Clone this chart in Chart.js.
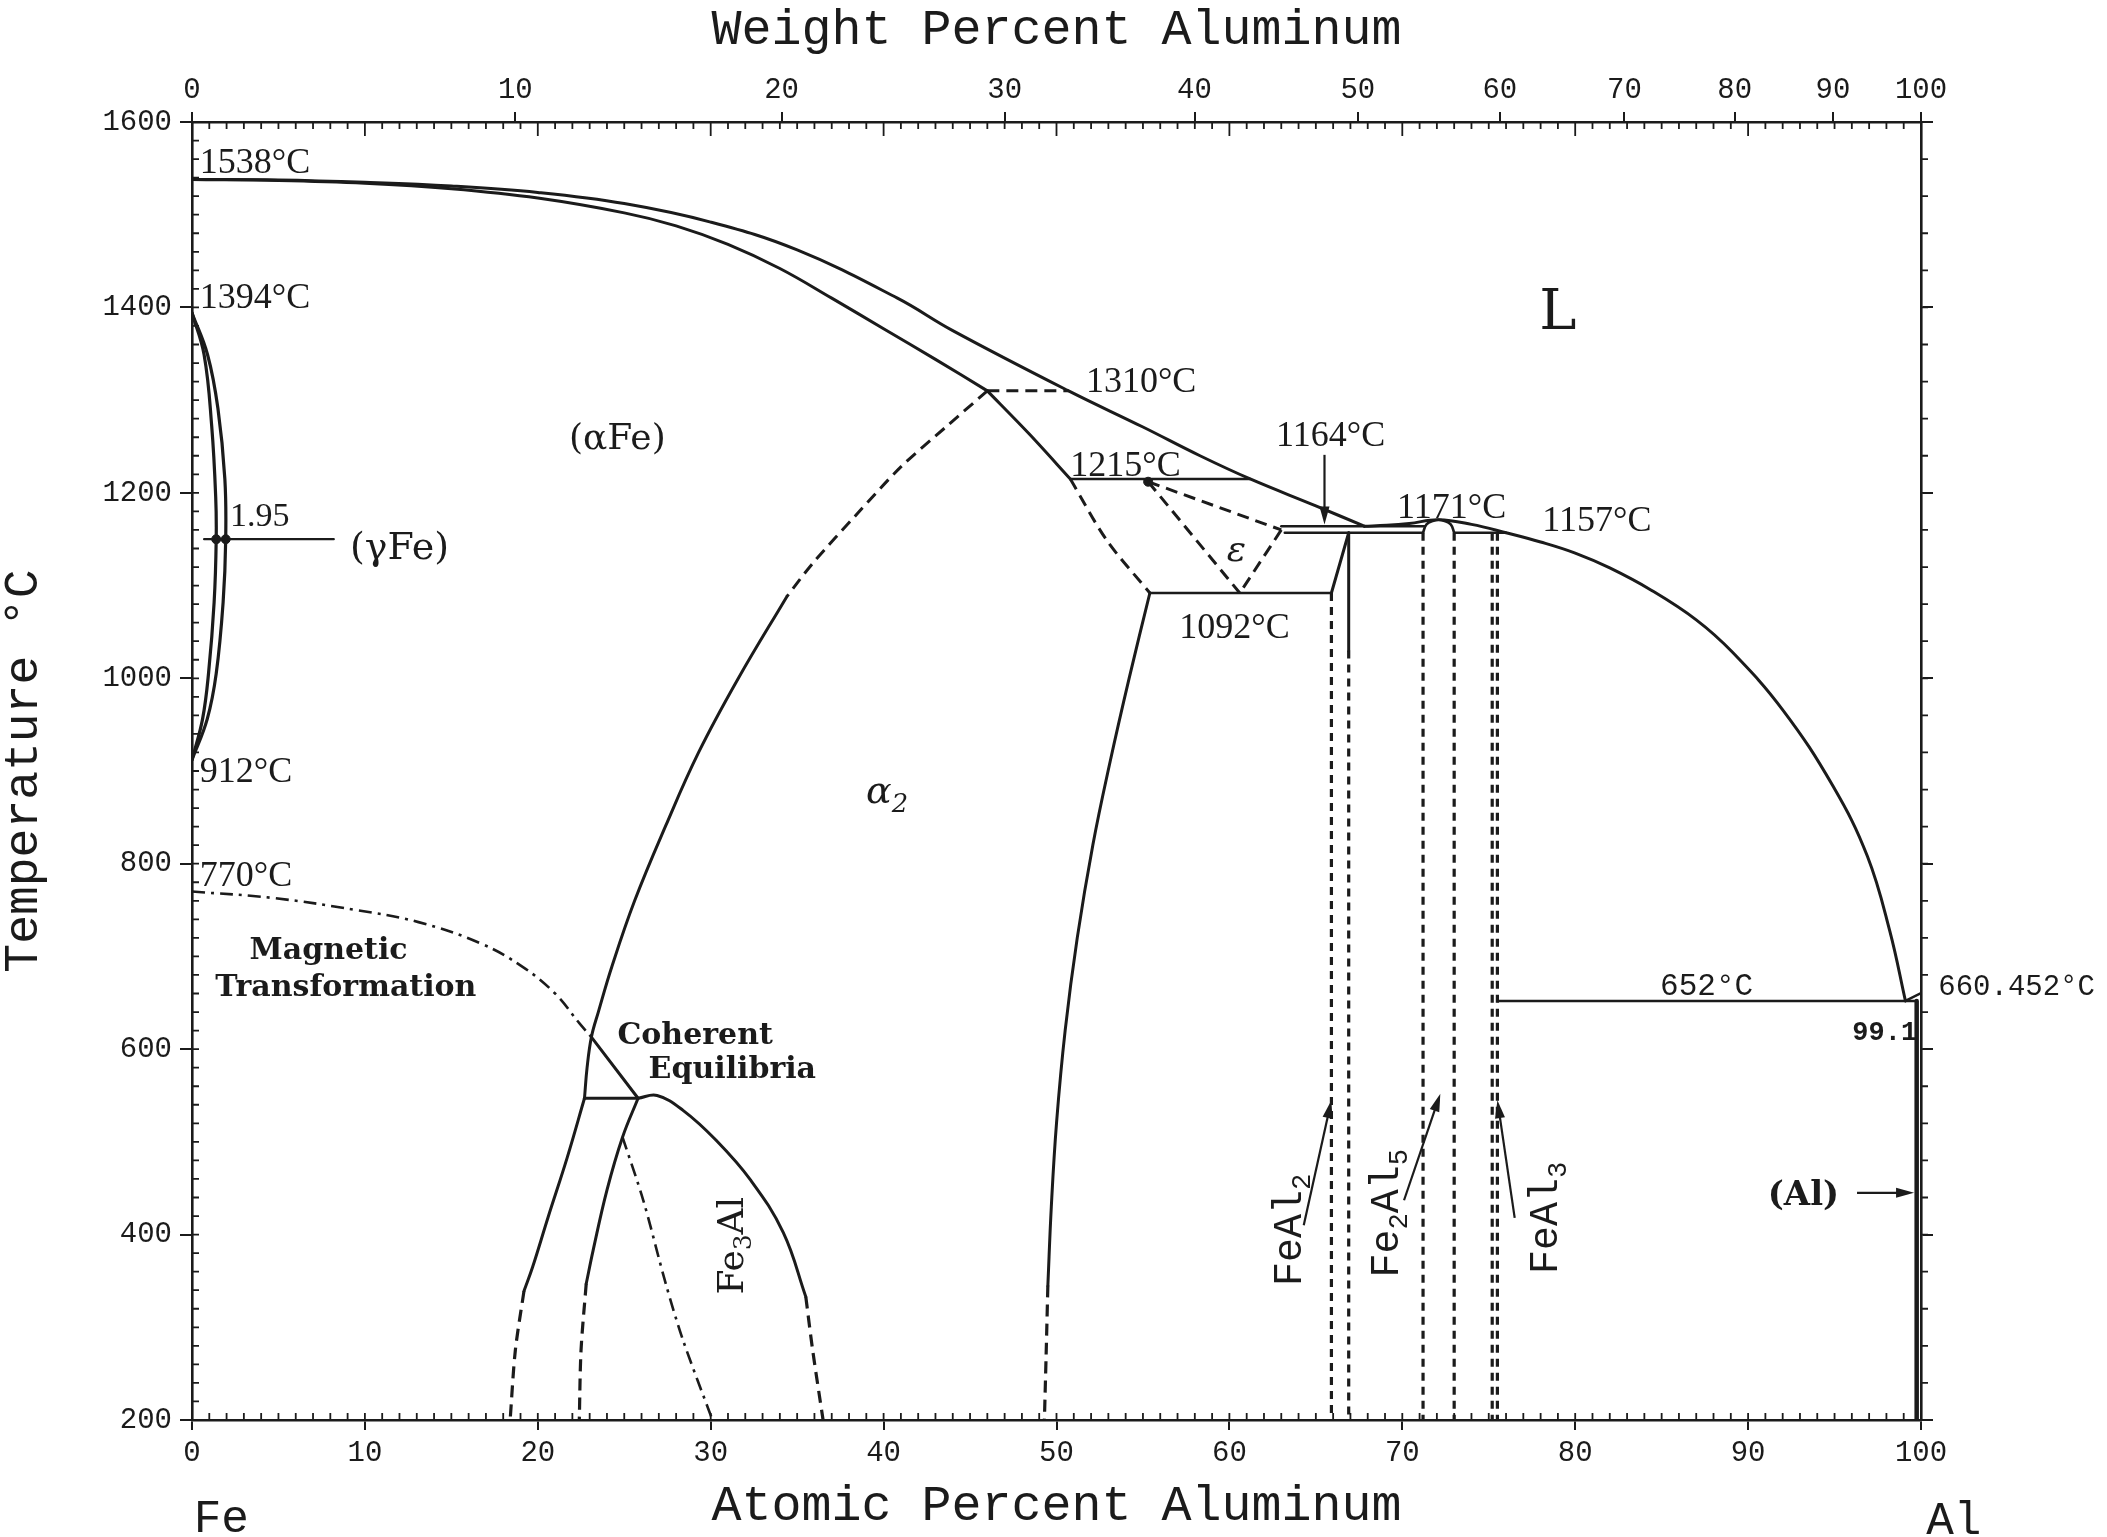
<!DOCTYPE html>
<html>
<head>
<meta charset="utf-8">
<script src="https://cdn.jsdelivr.net/npm/chart.js@4.4.1/dist/chart.umd.min.js"></script>
<style>
  html, body { margin: 0; padding: 0; background: #fff; }
  canvas { display: block; background: #fff; }
</style>
</head>
<body>
<canvas id="c" width="2107" height="1537"></canvas>
<script>
// ---------- axis ticks ----------
const atTicks = [0, 10, 20, 30, 40, 50, 60, 70, 80, 90, 100];      // atomic percent Al
const wtTicks = [0, 10, 20, 30, 40, 50, 60, 70, 80, 90, 100];      // weight percent Al
const tempTicks = [200, 400, 600, 800, 1000, 1200, 1400, 1600];    // degrees C

const M_AL = 26.98, M_FE = 55.845;
const wtToAt = w => 100 * (w / M_AL) / (w / M_AL + (100 - w) / M_FE);

// ---------- phase boundaries: [at.% Al, T in C] ----------
const liquidusFe   = [[0,1538],[5,1537.5],[10,1535],[15,1531],[20,1524],[25,1512],[30,1492],[35,1462],[40.8,1410],[44,1375],[50.7,1310],[55,1271],[58.3,1240],[61.2,1215],[65,1186],[67.8,1164]];
const solidusAlpha = [[0,1538],[5,1537],[10,1534],[15,1528],[20,1518],[25,1502],[28,1488],[31,1468],[34,1442],[37,1410],[40,1377],[43,1344],[46,1310]];
const liquidusAl   = [[67.8,1164],[69.1,1165],[70.4,1167],[72.1,1171],[74.0,1166],[76.0,1157],[78.0,1147],[80.0,1135],[82.0,1119],[84.4,1095],[87.0,1063],[89.1,1028],[92.0,966],[94.9,884],[96.9,808],[98.2,727],[99.1,652]];

const gammaOuter = [[0,1394],[0.9,1349],[1.5,1291],[1.9,1215],[1.95,1150],[1.8,1082],[1.4,1005],[0.88,956],[0,912]];
const gammaInner = [[0,1394],[0.7,1349],[1.14,1272],[1.37,1196],[1.4,1150],[1.28,1082],[0.96,1006],[0.61,956],[0,912]];
const gammaPointer = [[0.7,1150],[8.2,1150]];

const magnetic = [[0,770],[4.7,763],[9.5,750],[13.1,737],[16.7,714],[19.1,689],[21.0,660],[22.4,628],[23.1,613]];

const orderUpperDashed = [[46,1310],[43.6,1271],[41,1228],[38.5,1178],[35.9,1124],[34.4,1088]];
const orderLower = [[34.4,1088],[31.6,1000],[29.3,920],[27.4,841],[25.6,760],[24.3,690],[23.5,640],[23.1,613],[22.85,580],[22.7,547]];

const coherentTie  = [[22.7,547],[25.8,547]];
const coherentDiag = [[23.1,613],[25.8,547]];

const fe3AlDome       = [[25.8,547],[26.9,550],[28.4,534],[30.3,502],[32.3,459],[34.2,402],[35.5,333]];
const fe3AlDomeDashed = [[35.5,333],[35.9,275],[36.5,200]];
const fe3AlLeft       = [[22.7,547],[21.7,483],[20.6,419],[19.7,365],[19.2,339]];
const fe3AlLeftDashed = [[19.2,339],[18.7,275],[18.4,200]];
const fe3AlInner       = [[25.8,547],[24.9,505],[24.0,448],[23.2,383],[22.8,347]];
const fe3AlInnerDashed = [[22.8,347],[22.5,275],[22.4,200]];
const fe3AlOrder = [[24.9,505],[26.1,437],[27.4,347],[28.4,286],[30.1,200]];

const iso1310 = [[46,1310],[50.7,1310]];
const alpha2Upper = [[46,1310],[48.4,1264],[50.8,1215]];
const iso1215 = [[50.8,1215],[61.2,1215]];
const alpha2Dashed = [[50.8,1215],[52.9,1149],[55.4,1092]];
const iso1092 = [[55.4,1092],[65.9,1092]];
const alpha2Lower = [[55.4,1092],[54.2,1000],[53.1,910],[52.1,820],[51.2,720],[50.5,620],[50.0,520],[49.7,430],[49.5,345]];
const alpha2LowerDashed = [[49.5,345],[49.4,270],[49.3,200]];

const epsUpper = [[55.3,1212],[63.0,1160]];
const epsLeft  = [[55.3,1212],[60.6,1092]];
const epsRight = [[63.0,1160],[60.6,1092]];

const iso1164 = [[63.0,1164],[71.3,1164]];
const iso1157a = [[63.2,1157],[71.2,1157]];

const feAl2Diag = [[65.9,1092],[66.9,1157]];
const feAl2RightSolid = [[66.9,1157],[66.9,1030]];
const feAl2RightDashed = [[66.9,1030],[66.9,200]];
const feAl2LeftDashed = [[65.9,1092],[65.9,200]];

const fe2Al5Top = [[71.2,1157],[71.4,1166],[71.8,1170],[72.1,1171],[72.4,1170],[72.8,1166],[73.0,1157]];
const fe2Al5Left = [[71.2,1157],[71.2,200]];
const fe2Al5Right = [[73.0,1157],[73.0,200]];

const iso1157b = [[73.0,1157],[76.0,1157]];
const feAl3Left = [[75.2,1157],[75.2,200]];
const feAl3Right = [[75.5,1157],[75.5,200]];

const iso652 = [[75.5,652],[99.75,652]];
const alSolvus = [[99.75,652],[99.75,200]];
const alMelt = [[99.1,652],[100,660.452]];

const markedPoints = [[1.4,1150],[1.95,1150],[55.3,1212]];

// ---------- look ----------
const INK = '#1b1b1b';
const SERIF = '"DejaVu Serif"';
const TIMES = '"Liberation Serif"';
const MONO = '"Liberation Mono"';
const LW = 3;

const pts = a => a.map(([x, y]) => ({ x, y }));
const solid = (a, w = LW, t = 0) => ({
  data: pts(a), showLine: true, borderColor: INK, borderWidth: w,
  pointRadius: 0, tension: t, fill: false, borderCapStyle: 'round'
});
const dashed = (a, dash = [12, 7], w = LW, t = 0) => Object.assign(solid(a, w, t), { borderDash: dash, borderCapStyle: 'butt' });
const DASH = [12, 7];
const DASH_V = [8, 6];
const DASH_DOT = [13, 6, 3, 6];

const datasets = [
  solid(liquidusFe, LW, 0.4),
  solid(solidusAlpha, LW, 0.4),
  solid(liquidusAl, LW, 0.4),
  solid(gammaOuter, 3.2, 0.4),
  solid(gammaInner, 3.2, 0.4),
  solid(gammaPointer, 2.2),
  dashed(magnetic, DASH_DOT, 2.6, 0.4),
  dashed(orderUpperDashed, DASH, LW, 0.3),
  solid(orderLower, LW, 0.4),
  solid(coherentTie),
  solid(coherentDiag),
  solid(fe3AlDome, LW, 0.4),
  dashed(fe3AlDomeDashed, DASH, 3.2, 0.3),
  solid(fe3AlLeft, LW, 0.4),
  dashed(fe3AlLeftDashed, DASH, 3.2, 0.3),
  solid(fe3AlInner, LW, 0.4),
  dashed(fe3AlInnerDashed, DASH, 3.2, 0.3),
  dashed(fe3AlOrder, DASH_DOT, 2.6, 0.3),
  dashed(iso1310, DASH),
  solid(alpha2Upper, LW, 0.3),
  solid(iso1215, 2.6),
  dashed(alpha2Dashed, DASH, LW, 0.3),
  solid(iso1092, 2.6),
  solid(alpha2Lower, LW, 0.4),
  dashed(alpha2LowerDashed, DASH, 3.2, 0.3),
  dashed(epsUpper, DASH),
  dashed(epsLeft, DASH),
  dashed(epsRight, DASH),
  solid(iso1164, 2.4),
  solid(iso1157a, 2.4),
  solid(feAl2Diag),
  solid(feAl2RightSolid),
  dashed(feAl2RightDashed, DASH_V, 3.2),
  dashed(feAl2LeftDashed, DASH_V, 3.2),
  solid(fe2Al5Top, 2.6, 0.4),
  dashed(fe2Al5Left, DASH_V, 3.2),
  dashed(fe2Al5Right, DASH_V, 3.2),
  solid(iso1157b, 2.4),
  dashed(feAl3Left, DASH_V, 3.2),
  dashed(feAl3Right, DASH_V, 3.2),
  solid(iso652, 2.6),
  solid(alSolvus, 4.5),
  solid(alMelt, 2.4),
  { data: pts(markedPoints), showLine: false, pointRadius: 4.5, pointBackgroundColor: INK, pointBorderColor: INK }
];

// ---------- text on the diagram ----------
const notes = [
  { text: '1538°C', at: 0.45, T: 1559, font: TIMES, size: 36, align: 'left' },
  { text: '1394°C', at: 0.45, T: 1413, font: TIMES, size: 36, align: 'left' },
  { text: '912°C',  at: 0.45, T: 902,  font: TIMES, size: 36, align: 'left' },
  { text: '770°C',  at: 0.45, T: 790,  font: TIMES, size: 36, align: 'left' },
  { text: '1.95',   at: 2.2,  T: 1177, font: TIMES, size: 34, align: 'left' },
  { text: '(γFe)',  at: 12.0, T: 1143, font: SERIF, size: 38 },
  { text: '(αFe)',  at: 24.6, T: 1261, font: SERIF, size: 36 },
  { text: '1310°C', at: 51.7, T: 1323, font: TIMES, size: 36, align: 'left' },
  { text: '1215°C', at: 50.8, T: 1232, font: TIMES, size: 36, align: 'left' },
  { text: '1164°C', at: 62.7, T: 1264, font: TIMES, size: 36, align: 'left' },
  { text: '1171°C', at: 69.7, T: 1187, font: TIMES, size: 36, align: 'left' },
  { text: '1157°C', at: 78.1, T: 1173, font: TIMES, size: 36, align: 'left' },
  { text: '1092°C', at: 57.1, T: 1057, font: TIMES, size: 36, align: 'left' },
  { text: 'ε',      at: 60.4, T: 1141, font: SERIF, size: 36, style: 'italic' },
  { text: 'L',      at: 79.0, T: 1399, font: SERIF, size: 56 },
  { text: 'α_2',    at: 40.2, T: 880,  font: SERIF, size: 38, style: 'italic' },
  { text: 'Magnetic',       at: 7.9,  T: 709, font: SERIF, size: 30, style: 'bold' },
  { text: 'Transformation', at: 8.9,  T: 669, font: SERIF, size: 30, style: 'bold' },
  { text: 'Coherent',       at: 29.1, T: 617, font: SERIF, size: 30, style: 'bold' },
  { text: 'Equilibria',     at: 31.25, T: 580, font: SERIF, size: 30, style: 'bold' },
  { text: 'Fe_3Al',  at: 31.1, T: 388, font: SERIF, size: 36, rotate: true },
  { text: 'FeAl_2',  at: 63.3, T: 405, font: MONO, size: 40, rotate: true },
  { text: 'Fe_2Al_5', at: 68.9, T: 423, font: MONO, size: 40, rotate: true },
  { text: 'FeAl_3',  at: 78.1, T: 418, font: MONO, size: 40, rotate: true },
  { text: '(Al)',    at: 93.2, T: 445, font: SERIF, size: 34, style: 'bold' },
  { text: '652°C',   at: 87.6, T: 670, font: MONO, size: 31 },
  { text: '99.1',    at: 97.9, T: 620, font: MONO, size: 27, style: 'bold' },
  { text: '660.452°C', at: 101.0, T: 670, font: MONO, size: 29, align: 'left' },
  { text: 'Fe',      at: 0.1,  T: 97,  font: MONO, size: 46, align: 'left' },
  { text: 'Al',      at: 100.3, T: 95, font: MONO, size: 46, align: 'left' }
];

const arrows = [
  { from: [96.3, 445], to: [99.6, 445] },
  { from: [65.5, 1241], to: [65.5, 1166] },
  { from: [64.3, 410], to: [65.9, 545] },
  { from: [70.1, 437], to: [72.2, 552] },
  { from: [76.5, 418], to: [75.5, 545] }
];

function runsOf(text) {
  const runs = []; let buf = '';
  for (let i = 0; i < text.length; i++) {
    if (text[i] === '_') {
      if (buf) { runs.push({ s: buf, sub: false }); buf = ''; }
      runs.push({ s: text[i + 1], sub: true }); i++;
    } else buf += text[i];
  }
  if (buf) runs.push({ s: buf, sub: false });
  return runs;
}

function drawNote(ctx, n, x, y) {
  const fontOf = sz => `${n.style || ''} ${sz}px ${n.font}`;
  const runs = runsOf(n.text);
  let w = 0;
  runs.forEach(r => { ctx.font = fontOf(r.sub ? n.size * 0.68 : n.size); r.w = ctx.measureText(r.s).width; w += r.w; });
  ctx.save();
  ctx.translate(x, y);
  if (n.rotate) ctx.rotate(-Math.PI / 2);
  let cx = n.align === 'left' ? 0 : n.align === 'right' ? -w : -w / 2;
  const base = n.size * 0.36;
  ctx.textBaseline = 'alphabetic';
  ctx.textAlign = 'left';
  runs.forEach(r => {
    ctx.font = fontOf(r.sub ? n.size * 0.68 : n.size);
    ctx.fillText(r.s, cx, r.sub ? base + n.size * 0.24 : base);
    cx += r.w;
  });
  ctx.restore();
}

const notesPlugin = {
  id: 'notes',
  afterDraw(chart) {
    const { ctx, scales: { x, y } } = chart;
    ctx.save();
    ctx.fillStyle = INK;
    notes.forEach(n => drawNote(ctx, n, x.getPixelForValue(n.at), y.getPixelForValue(n.T)));
    ctx.strokeStyle = INK; ctx.lineWidth = 2.2;
    arrows.forEach(a => {
      const x1 = x.getPixelForValue(a.from[0]), y1 = y.getPixelForValue(a.from[1]);
      const x2 = x.getPixelForValue(a.to[0]), y2 = y.getPixelForValue(a.to[1]);
      const ang = Math.atan2(y2 - y1, x2 - x1), L = 18, W = 5;
      ctx.beginPath(); ctx.moveTo(x1, y1); ctx.lineTo(x2 - Math.cos(ang) * L * 0.6, y2 - Math.sin(ang) * L * 0.6); ctx.stroke();
      ctx.beginPath();
      ctx.moveTo(x2, y2);
      ctx.lineTo(x2 - Math.cos(ang) * L - Math.sin(ang) * W, y2 - Math.sin(ang) * L + Math.cos(ang) * W);
      ctx.lineTo(x2 - Math.cos(ang) * L + Math.sin(ang) * W, y2 - Math.sin(ang) * L - Math.cos(ang) * W);
      ctx.closePath(); ctx.fill();
    });
    ctx.restore();
  }
};

// small tick marks along the frame
const frameTicks = {
  id: 'frameTicks',
  afterDatasetsDraw(chart) {
    const { ctx, chartArea: a, scales: { x, y } } = chart;
    ctx.save();
    ctx.strokeStyle = INK; ctx.lineWidth = 1.8;
    ctx.beginPath();
    for (let v = 0; v <= 100; v += 1) {
      const px = x.getPixelForValue(v);
      ctx.moveTo(px, a.bottom); ctx.lineTo(px, a.bottom - 7);
      ctx.moveTo(px, a.top); ctx.lineTo(px, a.top + (v % 10 === 0 ? 14 : 7));
    }
    for (let t = 200; t <= 1600; t += 20) {
      const py = y.getPixelForValue(t);
      ctx.moveTo(a.left, py); ctx.lineTo(a.left + 7, py);
    }
    for (let t = 200; t <= 1600; t += 40) {
      const py = y.getPixelForValue(t);
      ctx.moveTo(a.right, py); ctx.lineTo(a.right + 7, py);
    }
    ctx.stroke();
    ctx.restore();
  }
};

const tickFont = { family: 'Liberation Mono', size: 29 };
const titleFont = { family: 'Liberation Mono', size: 50, lineHeight: 1.2 };
const gridOpts = len => ({ drawOnChartArea: false, color: INK, lineWidth: 2, tickLength: len });
const borderOpts = { color: INK, width: 2.6 };

new Chart(document.getElementById('c'), {
  type: 'scatter',
  data: { datasets },
  options: {
    responsive: false,
    animation: false,
    devicePixelRatio: 1,
    layout: { padding: 0 },
    plugins: { legend: { display: false }, tooltip: { enabled: false } },
    scales: {
      x: {
        type: 'linear', position: 'bottom', min: 0, max: 100,
        afterBuildTicks: s => { s.ticks = atTicks.map(v => ({ value: v })); },
        ticks: { font: tickFont, color: INK, padding: 6, autoSkip: false, maxRotation: 0,
                 callback: v => String(v) },
        grid: gridOpts(10), border: borderOpts,
        title: { display: true, text: 'Atomic Percent Aluminum', font: titleFont, color: INK, padding: 0 },
        afterFit: s => { s.height = 117; }
      },
      x2: {
        type: 'linear', position: 'top', min: 0, max: 100,
        afterBuildTicks: s => { s.ticks = wtTicks.map(w => ({ value: wtToAt(w) })); },
        ticks: { font: tickFont, color: INK, padding: 4, autoSkip: false, maxRotation: 0,
                 callback: (v, i) => String(wtTicks[i]) },
        grid: gridOpts(10), border: borderOpts,
        title: { display: true, text: 'Weight Percent Aluminum', font: titleFont, color: INK, padding: { top: 1, bottom: 0 } },
        afterFit: s => { s.height = 122; }
      },
      y: {
        type: 'linear', position: 'left', min: 200, max: 1600,
        afterBuildTicks: s => { s.ticks = tempTicks.map(v => ({ value: v })); },
        ticks: { font: tickFont, color: INK, padding: 8, callback: v => String(v) },
        grid: gridOpts(12), border: borderOpts,
        title: { display: true, text: 'Temperature °C', font: { family: 'Liberation Mono', size: 48, lineHeight: 1.0 }, color: INK, padding: 0 },
        afterFit: s => { s.width = 192; }
      },
      y2: {
        type: 'linear', position: 'right', min: 200, max: 1600,
        afterBuildTicks: s => { s.ticks = tempTicks.map(v => ({ value: v })); },
        ticks: { display: false },
        grid: gridOpts(12), border: borderOpts,
        afterFit: s => { s.width = 186; }
      }
    }
  },
  plugins: [frameTicks, notesPlugin]
});
</script>
</body>
</html>
